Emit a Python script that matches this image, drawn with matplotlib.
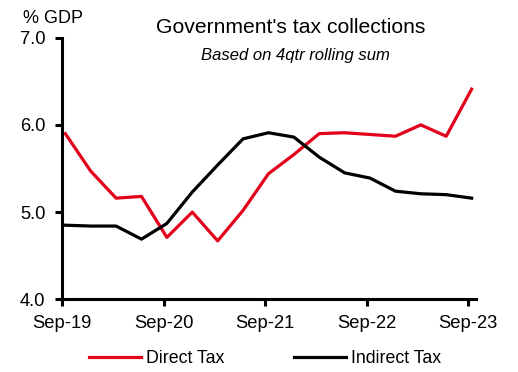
import numpy as np
import matplotlib
matplotlib.use("Agg")
import matplotlib.pyplot as plt

plt.rcParams['font.family'] = ['Liberation Sans', 'DejaVu Sans']

# quarterly, 4qtr rolling sums as % of GDP
quarters = ['Sep-19', 'Dec-19', 'Mar-20', 'Jun-20', 'Sep-20', 'Dec-20', 'Mar-21', 'Jun-21',
            'Sep-21', 'Dec-21', 'Mar-22', 'Jun-22', 'Sep-22', 'Dec-22', 'Mar-23', 'Jun-23', 'Sep-23']
direct_tax = [5.90, 5.47, 5.16, 5.18, 4.71, 5.00, 4.67, 5.02, 5.44, 5.66,
              5.90, 5.91, 5.89, 5.87, 6.00, 5.87, 6.41]
indirect_tax = [4.85, 4.84, 4.84, 4.69, 4.87, 5.23, 5.54, 5.84, 5.91, 5.86,
                5.63, 5.45, 5.39, 5.24, 5.21, 5.20, 5.16]
yticks = [4.0, 5.0, 6.0, 7.0]

RED = '#E2001A'

x = np.arange(len(quarters)) + 0.13
tick_pos = np.arange(0, len(quarters), 4)

fig = plt.figure(figsize=(5.18, 3.72), dpi=100)
ax = fig.add_axes([0.1197, 0.1954, 0.7986, 0.7033])

ax.plot(x, direct_tax, color=RED, lw=2.3, label='Direct Tax')
ax.plot(x, indirect_tax, color='black', lw=2.3, label='Indirect Tax')

ax.set_ylim(4.0, 7.0)
ax.set_xlim(0, 16.29)
ax.set_yticks(yticks)
ax.set_yticklabels([f'{v:.1f}' for v in yticks])
ax.set_xticks(tick_pos)
ax.set_xticklabels([quarters[i] for i in tick_pos])

for s in ['top', 'right']:
    ax.spines[s].set_visible(False)
for s in ['left', 'bottom']:
    ax.spines[s].set_linewidth(2.2)
ax.tick_params(axis='both', direction='out', length=5, width=2.2,
               labelsize=13.2, colors='black')
ax.tick_params(axis='y', pad=7)
ax.tick_params(axis='x', pad=6)

fig.text(0.044, 0.950, '% GDP', fontsize=13, va='center', ha='left')
fig.text(0.561, 0.926, "Government's tax collections", fontsize=15.2,
         ha='center', va='center')
fig.text(0.57, 0.852, 'Based on 4qtr rolling sum', fontsize=12,
         style='italic', ha='center', va='center')

fig.legend(loc='center', bbox_to_anchor=(0.512, 0.035), ncol=2, frameon=False,
           fontsize=12.8, handlelength=2.9, handletextpad=0.3, columnspacing=3.9,
           borderaxespad=0, borderpad=0)

fig.savefig('out.png', dpi=100)
